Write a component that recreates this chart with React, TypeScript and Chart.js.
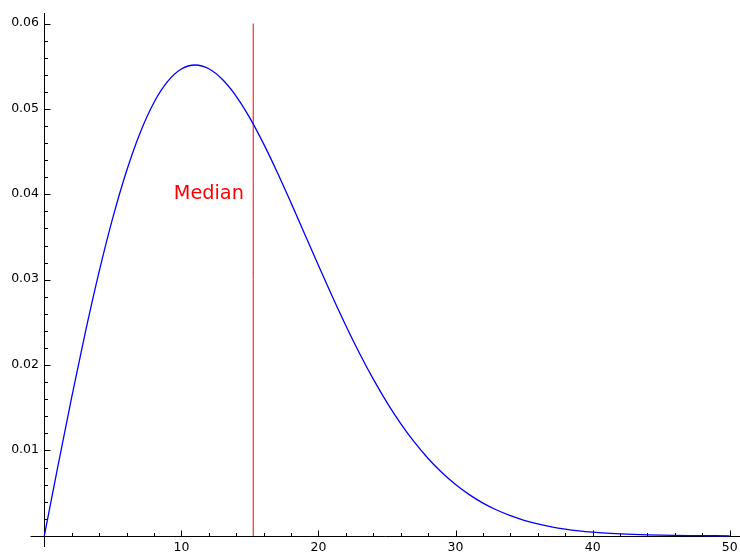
import React, { useEffect, useRef } from "react";
import { Chart, registerables } from "chart.js";

Chart.register(...registerables);

const xValues = [
  0, 1, 2, 3, 4, 5, 6, 7, 8, 9, 10, 11, 12, 13, 14, 15, 16, 17, 18, 19, 20,
  21, 22, 23, 24, 25, 26, 27, 28, 29, 30, 31, 32, 33, 34, 35, 36, 37, 38, 39,
  40, 41, 42, 43, 44, 45, 46, 47, 48, 49, 50,
];
const densityValues = [
  0, 0.00823, 0.016258, 0.023888, 0.030943, 0.037266, 0.042733, 0.047248,
  0.050752, 0.053222, 0.05467, 0.055139, 0.054699, 0.053442, 0.051476,
  0.048927, 0.045909, 0.042562, 0.038997, 0.035326, 0.03165, 0.028051,
  0.024606, 0.02136, 0.018357, 0.015614, 0.013154, 0.010974, 0.009068,
  0.00742, 0.006016, 0.004832, 0.003844, 0.00303, 0.002366, 0.001831,
  0.001404, 0.001068, 0.000804, 0.0006, 0.000444, 0.000326, 0.000237,
  0.000171, 0.000122, 0.0000863, 0.0000606, 0.0000422, 0.0000291, 0.0000199,
  0.0000135,
];
const medianX = 15.24;
const medianYRange = [0, 0.06];
const medianLabel = "Median";
const medianLabelPos = [12, 0.04];

const xMajorTicks = [10, 20, 30, 40, 50];
const xTickLabels = ["10", "20", "30", "40", "50"];
const xMinorTicks = [2, 4, 6, 8, 12, 14, 16, 18, 22, 24, 26, 28, 32, 34, 36, 38, 42, 44, 46, 48];
const yMajorTicks = [0.01, 0.02, 0.03, 0.04, 0.05, 0.06];
const yTickLabels = ["0.01", "0.02", "0.03", "0.04", "0.05", "0.06"];
const yMinorTicks = [
  0.002, 0.004, 0.006, 0.008, 0.012, 0.014, 0.016, 0.018, 0.022, 0.024, 0.026,
  0.028, 0.032, 0.034, 0.036, 0.038, 0.042, 0.044, 0.046, 0.048, 0.052, 0.054,
  0.056, 0.058,
];

const FONT = '"DejaVu Sans", sans-serif';

const axesPlugin = {
  id: "sageAxes",
  beforeDatasetsDraw(chart: any) {
    const { ctx, chartArea } = chart;
    const xs = chart.scales.x;
    const ys = chart.scales.y;
    const x0 = Math.round(xs.getPixelForValue(0)) + 0.5;
    const y0 = Math.round(ys.getPixelForValue(0)) + 0.5;
    ctx.save();
    ctx.strokeStyle = "#000";
    ctx.lineWidth = 1;
    ctx.beginPath();
    ctx.moveTo(chartArea.left, y0);
    ctx.lineTo(chartArea.right, y0);
    ctx.moveTo(x0, chartArea.top);
    ctx.lineTo(x0, chartArea.bottom);
    // x ticks (pointing up)
    xMajorTicks.forEach((v) => {
      const px = Math.round(xs.getPixelForValue(v)) + 0.5;
      ctx.moveTo(px, y0);
      ctx.lineTo(px, y0 - 6);
    });
    xMinorTicks.forEach((v) => {
      const px = Math.round(xs.getPixelForValue(v)) + 0.5;
      ctx.moveTo(px, y0);
      ctx.lineTo(px, y0 - 3.5);
    });
    // y ticks (pointing right)
    yMajorTicks.forEach((v) => {
      const py = Math.round(ys.getPixelForValue(v)) + 0.5;
      ctx.moveTo(x0, py);
      ctx.lineTo(x0 + 6, py);
    });
    yMinorTicks.forEach((v) => {
      const py = Math.round(ys.getPixelForValue(v)) + 0.5;
      ctx.moveTo(x0, py);
      ctx.lineTo(x0 + 3.5, py);
    });
    ctx.stroke();

    ctx.fillStyle = "#000";
    ctx.font = `12.5px ${FONT}`;
    ctx.textAlign = "center";
    ctx.textBaseline = "middle";
    xMajorTicks.forEach((v, i) => {
      ctx.fillText(xTickLabels[i], xs.getPixelForValue(v), y0 + 11.5);
    });
    ctx.textAlign = "right";
    yMajorTicks.forEach((v, i) => {
      ctx.fillText(yTickLabels[i], x0 - 5.5, ys.getPixelForValue(v) - 0.5);
    });
    ctx.restore();
  },
  afterDraw(chart: any) {
    const { ctx } = chart;
    const xs = chart.scales.x;
    const ys = chart.scales.y;
    ctx.save();
    ctx.fillStyle = "#ff0000";
    ctx.font = `19.3px ${FONT}`;
    ctx.textAlign = "center";
    ctx.textBaseline = "middle";
    ctx.fillText(
      medianLabel,
      xs.getPixelForValue(medianLabelPos[0]),
      ys.getPixelForValue(medianLabelPos[1])
    );
    ctx.restore();
  },
};

export default function App() {
  const canvasRef = useRef<HTMLCanvasElement | null>(null);

  useEffect(() => {
    document.body.style.margin = "0";
    const canvas = canvasRef.current;
    if (!canvas) return;
    const chart = new Chart(canvas, {
      type: "line",
      data: {
        datasets: [
          {
            label: "density",
            data: xValues.map((x, i) => ({ x, y: densityValues[i] })),
            borderColor: "#0000ff",
            borderWidth: 1.3,
            pointRadius: 0,
            tension: 0,
            cubicInterpolationMode: "monotone",
            fill: false,
          },
          {
            label: "median",
            data: medianYRange.map((y) => ({ x: medianX, y })),
            borderColor: "#ff0000",
            borderWidth: 1,
            pointRadius: 0,
            fill: false,
          },
        ],
      },
      options: {
        responsive: false,
        maintainAspectRatio: false,
        animation: false,
        events: [],
        layout: { padding: { left: 30.6, right: 0, top: 13, bottom: 7 } },
        plugins: {
          legend: { display: false },
          tooltip: { enabled: false },
          title: { display: false },
        },
        scales: {
          x: { type: "linear", min: -1, max: 50.75, display: false },
          y: { type: "linear", min: -0.0013, max: 0.06123, display: false },
        },
      },
      plugins: [axesPlugin],
    } as any);
    return () => chart.destroy();
  }, []);

  return (
    <div style={{ width: 740, height: 554, background: "#fff" }}>
      <canvas ref={canvasRef} width={740} height={554} style={{ display: "block" }} />
    </div>
  );
}
